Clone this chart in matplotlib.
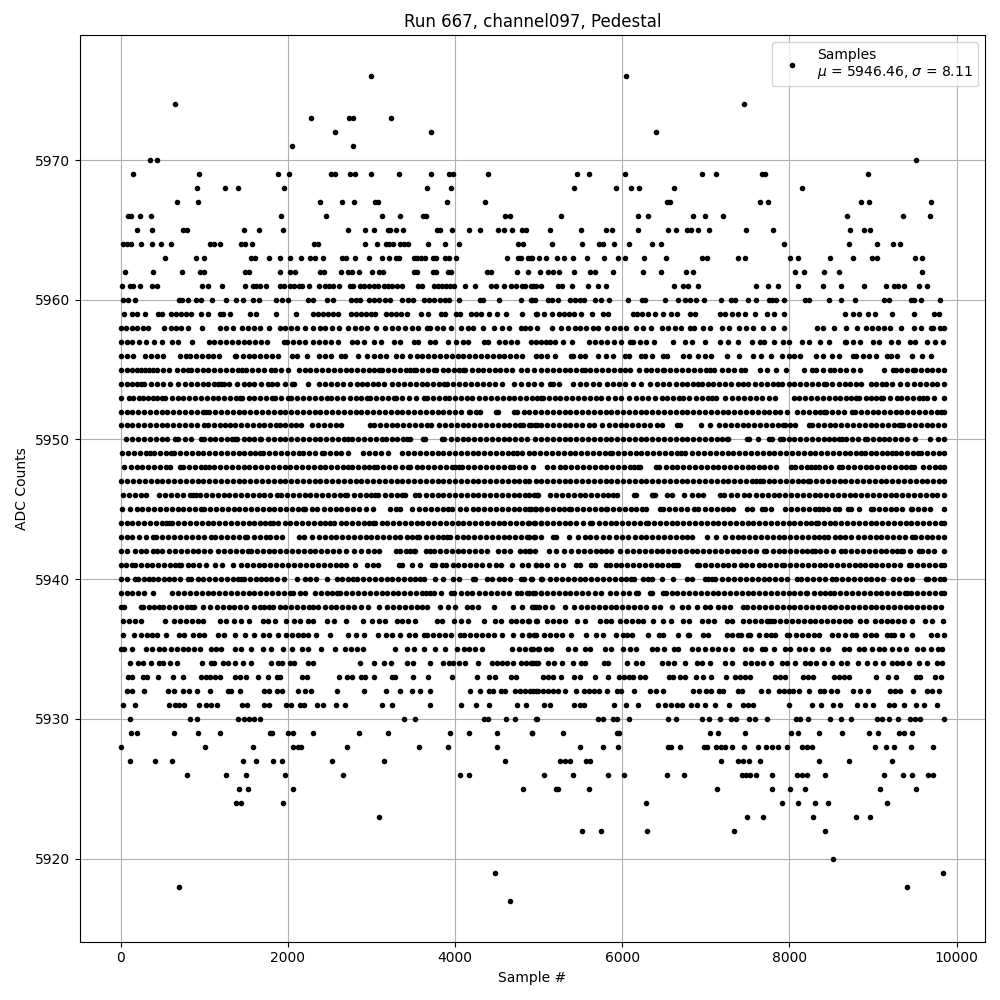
import matplotlib
matplotlib.use('Agg')
import matplotlib.pyplot as plt

# sample numbers for each ADC level
adc5976 = [3000, 6046]
adc5974 = [648, 7462]
adc5973 = [2280, 2736, 2784, 3228]
adc5972 = [2568, 3708, 6406]
adc5971 = [2052, 2784]
adc5970 = [348, 432, 9514]
adc5969 = [144, 936, 1884, 2016, 2520, 2568, 2748, 2804, 3000, 3324, 3708, 3932, 3980, 4392, 5458, 5602, 6034, 6958, 7126, 7666, 7702, 8938]
adc5968 = [912, 1248, 1404, 1956, 3660, 3948, 5422, 5926, 6106, 6202, 6622, 8146]
adc5967 = [672, 924, 2388, 2652, 2796, 3044, 3076, 3900, 4356, 6538, 6574, 7642, 7738, 8854, 8950, 9694]
adc5966 = [84, 120, 228, 360, 1920, 2460, 3120, 3336, 3612, 3656, 4596, 4656, 5266, 6190, 6310, 6850, 6994, 7210, 8686, 9358, 9682]
adc5965 = [192, 372, 744, 792, 1476, 1656, 1944, 2716, 2924, 3036, 3192, 3224, 3288, 3372, 3784, 3816, 3960, 4164, 4296, 4512, 4584, 4680, 4796, 4844, 5134, 5506, 5806, 5878, 6190, 6550, 6646, 6778, 6826, 6910, 7042, 7486, 7798, 8722, 8890, 8962]
adc5964 = [32, 80, 124, 240, 372, 480, 600, 1068, 1120, 1188, 1440, 1488, 1572, 2316, 2364, 2928, 3072, 3176, 3212, 3260, 3344, 3392, 3436, 3672, 3876, 4044, 4752, 4816, 5158, 5518, 5722, 5770, 5902, 6082, 6358, 6466, 7930, 8710, 9046, 9238, 9322]
adc5963 = [528, 900, 996, 1556, 1604, 1776, 1908, 2028, 2160, 2268, 2320, 2424, 2652, 2696, 2808, 2976, 3120, 3204, 3288, 3328, 3504, 3548, 3592, 3636, 3732, 3768, 3884, 3924, 4008, 4624, 4752, 4792, 4876, 4920, 4906, 5002, 5086, 5218, 5302, 5410, 5578, 5782, 5950, 6034, 6262, 6526, 6958, 7018, 7390, 7474, 8002, 8098, 8482, 8758, 8986, 9046, 9502, 9586]
adc5962 = [52, 384, 732, 948, 996, 1488, 1536, 1908, 2028, 2088, 2388, 2436, 2636, 2724, 2772, 2856, 3012, 3088, 3136, 3504, 3548, 3732, 3768, 3912, 3948, 4380, 4432, 4740, 4872, 5014, 5110, 5170, 5242, 5422, 5614, 5674, 5890, 6250, 6466, 6766, 6850, 8062, 8170, 8410, 8590, 9586]
adc5961 = [12, 108, 144, 228, 372, 432, 972, 1044, 1212, 1488, 1580, 1616, 1668, 1740, 1908, 1956, 2028, 2076, 2136, 2172, 2256, 2376, 2448, 2496, 2544, 2616, 2748, 2784, 2868, 2916, 2976, 3036, 3084, 3144, 3192, 3248, 3300, 3360, 3552, 3600, 3744, 3792, 3840, 3888, 3936, 3984, 4116, 4236, 4432, 4492, 4584, 4668, 4728, 4800, 4836, 4908, 4968, 4930, 5026, 5230, 5278, 5398, 5590, 5710, 5806, 6622, 6730, 6790, 6910, 7594, 7738, 7858, 8098, 8398, 8614, 8890, 9154, 9250, 9298, 9370, 9550, 9646]
adc5960 = [24, 84, 168, 696, 732, 804, 900, 960, 1092, 1260, 1384, 1464, 1584, 1656, 1860, 1932, 2004, 2244, 2304, 2472, 2544, 2760, 2820, 2868, 2976, 3036, 3096, 3156, 3216, 3360, 3432, 3492, 3624, 3684, 3744, 3816, 3876, 3932, 4044, 4296, 4332, 4524, 4788, 4908, 4956, 4918, 5110, 5158, 5230, 5374, 5434, 5494, 5542, 5674, 5746, 5842, 6070, 6238, 6274, 6514, 6670, 6754, 6814, 6878, 6982, 7186, 7306, 7354, 7510, 7594, 7750, 7786, 7834, 7930, 8182, 8230, 8470, 8614, 8782, 9130, 9190, 9454, 9490, 9574, 9802]
adc5959 = [36, 132, 192, 288, 444, 492, 600, 660, 720, 780, 840, 960, 1044, 1188, 1224, 1308, 1548, 1620, 1860, 2100, 2304, 2364, 2424, 2484, 2544, 2604, 2760, 2820, 2880, 2940, 3000, 3048, 3168, 3228, 3288, 3348, 3420, 3588, 3672, 3828, 3876, 4008, 4056, 4188, 4248, 4308, 4404, 4500, 4608, 4800, 4980, 4966, 5062, 5158, 5242, 5302, 5362, 5422, 5506, 5638, 5770, 5830, 6130, 6178, 6238, 6310, 6394, 6490, 6586, 6658, 6814, 6874, 7174, 7234, 7318, 7390, 7474, 7582, 7726, 7810, 7930, 8662, 8758, 8830, 8938, 9022, 9226, 9490, 9730, 9790]
adc5958 = [0, 60, 130, 200, 270, 324, 524, 600, 660, 724, 804, 972, 1184, 1264, 1344, 1456, 1524, 1600, 1664, 1776, 1904, 1964, 2040, 2110, 2204, 2304, 2380, 2450, 2530, 2616, 2724, 2800, 2870, 2950, 3056, 3164, 3244, 3320, 3400, 3480, 3560, 3664, 3704, 3780, 3860, 3952, 4072, 4150, 4220, 4336, 4464, 4564, 4640, 4784, 4832, 4900, 4984, 5162, 5270, 5350, 5430, 5500, 5570, 5650, 5710, 5818, 5900, 5978, 6050, 6166, 6250, 6338, 6478, 6550, 6630, 6700, 6810, 6862, 6970, 7050, 7190, 7274, 7402, 7480, 7560, 7682, 7802, 7930, 8330, 8400, 8538, 8682, 8810, 8918, 8990, 9060, 9130, 9202, 9334, 9490, 9570, 9690, 9718, 9800, 9847]
adc5957 = [0, 70, 140, 220, 300, 400, 496, 608, 680, 848, 1056, 1112, 1190, 1260, 1330, 1400, 1470, 1540, 1610, 1680, 1752, 1952, 1992, 2060, 2130, 2210, 2304, 2376, 2450, 2520, 2600, 2764, 2824, 2916, 3032, 3110, 3272, 3344, 3512, 3552, 3704, 3764, 3912, 4016, 4090, 4160, 4344, 4392, 4524, 4600, 4670, 4740, 4912, 4964, 5024, 5090, 5130, 5200, 5290, 5402, 5602, 5670, 5750, 5820, 5900, 5990, 6090, 6130, 6210, 6290, 6378, 6610, 6750, 6830, 6990, 7170, 7260, 7390, 7550, 7642, 7690, 7818, 7918, 8000, 8150, 8230, 8370, 8478, 8670, 8682, 8760, 8840, 9002, 9070, 9210, 9298, 9438, 9498, 9650, 9738, 9842]
adc5956 = [4, 80, 150, 296, 364, 440, 510, 704, 776, 832, 900, 970, 1040, 1110, 1180, 1364, 1384, 1460, 1530, 1600, 1670, 1740, 1810, 1880, 2044, 2104, 2224, 2376, 2450, 2520, 2632, 2684, 2844, 2944, 3032, 3100, 3170, 3296, 3364, 3464, 3540, 3610, 3680, 3750, 3820, 3890, 3960, 4030, 4100, 4170, 4240, 4310, 4380, 4450, 4520, 4590, 4660, 4730, 4800, 4964, 5030, 5100, 5190, 5390, 5410, 5490, 5560, 5710, 5810, 5890, 6030, 6082, 6230, 6270, 6350, 6482, 6538, 6722, 6802, 6910, 6990, 7060, 7258, 7402, 7562, 7658, 7778, 7910, 7990, 8060, 8130, 8322, 8402, 8510, 8598, 8762, 8802, 8880, 8950, 9030, 9162, 9218, 9290, 9470, 9590, 9690]
adc5955 = [0, 70, 140, 190, 240, 290, 344, 384, 440, 504, 576, 672, 740, 804, 844, 910, 980, 1050, 1120, 1190, 1264, 1330, 1400, 1450, 1504, 1576, 1644, 1720, 1804, 1844, 1920, 2004, 2132, 2200, 2270, 2340, 2410, 2480, 2550, 2620, 2690, 2760, 2830, 2900, 2970, 3030, 3096, 3124, 3200, 3270, 3340, 3410, 3460, 3512, 3536, 3610, 3680, 3744, 3776, 3850, 3920, 3990, 4050, 4096, 4124, 4200, 4270, 4340, 4410, 4480, 4540, 4604, 4684, 4784, 4864, 4940, 5024, 5098, 5170, 5240, 5310, 5380, 5450, 5520, 5550, 5620, 5690, 5760, 5830, 5900, 5970, 6030, 6098, 6202, 6280, 6340, 6410, 6482, 6498, 6570, 6640, 6720, 6790, 6860, 6930, 7000, 7050, 7098, 7198, 7270, 7340, 7418, 7474, 7650, 7730, 7834, 7954, 8178, 8270, 8322, 8400, 8482, 8530, 8600, 8680, 8760, 8847, 9130, 9242, 9270, 9340, 9410, 9478, 9498, 9570, 9640, 9710, 9780, 9847]
adc5954 = [0, 70, 130, 192, 240, 284, 360, 440, 510, 584, 688, 764, 840, 910, 980, 1050, 1120, 1160, 1204, 1232, 1300, 1390, 1472, 1532, 1600, 1680, 1764, 1816, 1872, 1960, 2044, 2076, 2244, 2376, 2444, 2520, 2590, 2664, 2744, 2824, 2892, 2944, 3020, 3080, 3152, 3244, 3320, 3390, 3460, 3530, 3600, 3670, 3740, 3810, 3864, 3904, 3980, 4050, 4120, 4190, 4260, 4330, 4400, 4480, 4564, 4704, 4792, 4870, 4940, 5024, 5130, 5170, 5240, 5410, 5490, 5570, 5650, 5718, 5818, 5890, 5960, 6030, 6130, 6230, 6330, 6418, 6490, 6560, 6640, 6710, 6780, 6850, 6910, 6950, 7020, 7090, 7160, 7230, 7300, 7380, 7450, 7510, 7590, 7660, 7730, 7800, 7860, 7910, 7990, 8060, 8130, 8200, 8270, 8340, 8410, 8442, 8510, 8590, 8660, 8730, 8800, 8858, 8978, 9040, 9110, 9150, 9230, 9322, 9410, 9490, 9560, 9630, 9700, 9770, 9847]
adc5953 = [4, 96, 144, 220, 270, 324, 392, 440, 492, 532, 610, 680, 750, 820, 890, 960, 1030, 1100, 1170, 1240, 1310, 1380, 1432, 1456, 1530, 1600, 1670, 1740, 1816, 1844, 1920, 2004, 2032, 2110, 2180, 2250, 2320, 2400, 2472, 2512, 2590, 2660, 2740, 2810, 2880, 2944, 2984, 3060, 3130, 3200, 3264, 3296, 3370, 3450, 3530, 3624, 3664, 3740, 3810, 3884, 3924, 4000, 4070, 4140, 4204, 4284, 4360, 4430, 4500, 4570, 4640, 4710, 4780, 4850, 4920, 4980, 5024, 5050, 5120, 5190, 5260, 5330, 5400, 5470, 5540, 5610, 5680, 5750, 5830, 5910, 5990, 6082, 6162, 6240, 6310, 6390, 6470, 6540, 6610, 6682, 6730, 6800, 6880, 6950, 7020, 7070, 7118, 7226, 7318, 7390, 7460, 7530, 7600, 7670, 7750, 7830, 8050, 8120, 8190, 8260, 8330, 8400, 8470, 8540, 8610, 8680, 8740, 8802, 8830, 8910, 8980, 9040, 9090, 9122, 9200, 9290, 9338, 9410, 9480, 9550, 9600, 9642, 9730, 9847]
adc5952 = [0, 70, 140, 210, 280, 350, 420, 490, 560, 630, 700, 770, 840, 910, 980, 1024, 1056, 1130, 1200, 1270, 1340, 1410, 1480, 1550, 1620, 1690, 1760, 1830, 1900, 1970, 2040, 2110, 2180, 2250, 2320, 2390, 2460, 2530, 2600, 2670, 2740, 2810, 2880, 2950, 3020, 3090, 3160, 3230, 3300, 3370, 3440, 3510, 3580, 3650, 3720, 3790, 3860, 3930, 4000, 4070, 4164, 4184, 4250, 4300, 4484, 4512, 4704, 4744, 4820, 4890, 4960, 5030, 5100, 5170, 5240, 5310, 5380, 5450, 5520, 5590, 5660, 5730, 5800, 5870, 5940, 6010, 6080, 6150, 6220, 6290, 6360, 6430, 6500, 6570, 6640, 6710, 6780, 6850, 6920, 6990, 7060, 7130, 7200, 7270, 7340, 7410, 7480, 7550, 7620, 7690, 7760, 7830, 7890, 7970, 8090, 8160, 8230, 8300, 8360, 8410, 8438, 8510, 8580, 8650, 8750, 8782, 8860, 8930, 9000, 9060, 9130, 9202, 9270, 9340, 9410, 9480, 9550, 9620, 9690, 9760, 9810, 9847]
adc5951 = [4, 70, 140, 210, 280, 350, 420, 490, 560, 630, 700, 770, 840, 910, 992, 1044, 1120, 1190, 1250, 1312, 1364, 1440, 1510, 1580, 1650, 1720, 1790, 1856, 1904, 1970, 2040, 2100, 2156, 2284, 2360, 2430, 2500, 2570, 2640, 2984, 3032, 3100, 3170, 3240, 3310, 3380, 3450, 3520, 3590, 3660, 3712, 3804, 3880, 3950, 4020, 4090, 4160, 4230, 4300, 4370, 4440, 4510, 4580, 4650, 4720, 4780, 4816, 4904, 4984, 4890, 4960, 5030, 5100, 5170, 5240, 5310, 5380, 5450, 5522, 5600, 5660, 5762, 5840, 5910, 5980, 6050, 6120, 6190, 6260, 6330, 6410, 6478, 6650, 6690, 6938, 7054, 7158, 7230, 7300, 7370, 7440, 7510, 7580, 7650, 7720, 7790, 7860, 7920, 7950, 8002, 8070, 8230, 8270, 8340, 8410, 8480, 8550, 8620, 8690, 8760, 8830, 8900, 8970, 9040, 9110, 9180, 9250, 9310, 9330, 9362, 9430, 9500, 9570, 9640, 9710, 9780, 9847]
adc5950 = [64, 140, 210, 280, 350, 420, 490, 560, 644, 684, 764, 840, 960, 992, 1070, 1130, 1200, 1270, 1330, 1364, 1392, 1470, 1540, 1600, 1664, 1684, 1760, 1830, 1900, 1970, 2040, 2110, 2180, 2250, 2320, 2390, 2460, 2530, 2600, 2670, 2724, 2764, 2840, 2910, 2980, 3050, 3124, 3172, 3240, 3310, 3380, 3424, 3456, 3616, 3644, 3844, 3872, 3950, 4020, 4090, 4160, 4230, 4300, 4370, 4440, 4510, 4580, 4650, 4720, 4790, 4860, 4960, 5030, 5100, 5170, 5240, 5310, 5380, 5450, 5520, 5590, 5660, 5730, 5800, 5870, 5940, 6010, 6080, 6150, 6220, 6290, 6360, 6430, 6500, 6570, 6640, 6710, 6780, 6850, 6920, 6990, 7060, 7130, 7190, 7250, 7270, 7490, 7522, 7618, 7750, 7790, 7890, 7918, 7990, 8060, 8130, 8200, 8270, 8340, 8410, 8470, 8530, 8590, 8630, 8682, 8750, 8820, 8898, 8930, 9000, 9070, 9130, 9190, 9258, 9338, 9410, 9500, 9682, 9778, 9847]
adc5949 = [16, 90, 160, 230, 300, 350, 400, 470, 540, 600, 632, 708, 780, 850, 920, 990, 1060, 1130, 1200, 1270, 1340, 1410, 1480, 1550, 1610, 1664, 1704, 1780, 1850, 1920, 1990, 2060, 2130, 2180, 2250, 2320, 2404, 2432, 2500, 2570, 2640, 2720, 2896, 2970, 3040, 3110, 3192, 3364, 3440, 3510, 3580, 3650, 3720, 3790, 3860, 3930, 4000, 4070, 4140, 4210, 4280, 4350, 4420, 4490, 4560, 4630, 4690, 4744, 4804, 4880, 4950, 5020, 5090, 5160, 5230, 5300, 5370, 5440, 5510, 5580, 5650, 5720, 5790, 5850, 5878, 5950, 6020, 6090, 6160, 6230, 6300, 6370, 6440, 6510, 6580, 6650, 6700, 6750, 6838, 6910, 6980, 7050, 7120, 7190, 7260, 7330, 7400, 7470, 7540, 7610, 7680, 7750, 7820, 7890, 7960, 8030, 8100, 8170, 8240, 8310, 8380, 8450, 8520, 8590, 8660, 8730, 8800, 8858, 8898, 8970, 9040, 9110, 9170, 9230, 9270, 9340, 9410, 9480, 9538, 9578, 9650, 9720, 9790, 9847]
adc5948 = [44, 120, 190, 260, 330, 400, 470, 544, 584, 704, 744, 820, 890, 960, 1010, 1056, 1112, 1190, 1260, 1330, 1400, 1470, 1540, 1610, 1680, 1750, 1820, 1890, 1960, 2030, 2100, 2170, 2240, 2310, 2380, 2450, 2520, 2590, 2660, 2724, 2764, 2840, 2910, 2970, 3032, 3064, 3140, 3210, 3280, 3360, 3432, 3464, 3540, 3610, 3680, 3750, 3820, 3890, 3960, 4000, 4044, 4084, 4160, 4230, 4300, 4370, 4440, 4510, 4580, 4656, 4696, 4770, 4840, 4930, 5098, 5170, 5250, 5320, 5390, 5460, 5530, 5600, 5670, 5740, 5810, 5880, 5950, 6020, 6090, 6140, 6190, 6218, 6400, 6442, 6520, 6590, 6660, 6730, 6800, 6870, 6940, 7010, 7080, 7150, 7220, 7290, 7360, 7430, 7500, 7570, 7640, 7700, 7770, 7834, 8018, 8070, 8140, 8210, 8260, 8310, 8350, 8420, 8500, 8590, 8630, 8700, 8770, 8840, 8910, 8980, 9050, 9120, 9190, 9260, 9330, 9400, 9450, 9490, 9600, 9670, 9740, 9800, 9847]
adc5947 = [4, 80, 150, 220, 290, 360, 430, 500, 570, 640, 710, 780, 850, 920, 990, 1060, 1130, 1200, 1270, 1340, 1410, 1480, 1550, 1620, 1690, 1760, 1830, 1900, 1970, 2040, 2110, 2180, 2250, 2320, 2390, 2460, 2530, 2600, 2670, 2740, 2810, 2880, 2950, 3020, 3090, 3160, 3230, 3300, 3370, 3440, 3510, 3580, 3650, 3720, 3790, 3860, 3930, 4000, 4070, 4140, 4210, 4280, 4350, 4420, 4490, 4560, 4630, 4700, 4770, 4840, 4890, 4970, 5030, 5100, 5170, 5240, 5310, 5380, 5450, 5520, 5590, 5660, 5730, 5800, 5870, 5940, 6010, 6080, 6150, 6220, 6290, 6360, 6430, 6500, 6570, 6640, 6710, 6780, 6850, 6920, 6990, 7060, 7130, 7200, 7270, 7340, 7410, 7480, 7550, 7600, 7650, 7682, 7750, 7820, 7890, 7960, 8030, 8100, 8160, 8218, 8242, 8320, 8390, 8460, 8530, 8600, 8670, 8740, 8810, 8880, 8950, 9020, 9090, 9160, 9230, 9300, 9370, 9440, 9510, 9580, 9650, 9720, 9790, 9847]
adc5946 = [24, 100, 170, 240, 304, 456, 530, 600, 670, 744, 824, 860, 904, 944, 1020, 1090, 1160, 1230, 1300, 1370, 1440, 1510, 1580, 1650, 1720, 1790, 1864, 1912, 1990, 2060, 2130, 2200, 2270, 2340, 2410, 2480, 2550, 2620, 2684, 2712, 2790, 2860, 2930, 3000, 3044, 3084, 3160, 3230, 3300, 3364, 3404, 3524, 3572, 3650, 3720, 3790, 3860, 3930, 4000, 4070, 4140, 4210, 4280, 4350, 4420, 4490, 4560, 4630, 4700, 4770, 4840, 4984, 4890, 4950, 4990, 5130, 5202, 5280, 5350, 5420, 5490, 5560, 5630, 5700, 5770, 5830, 5890, 5938, 6138, 6170, 6350, 6362, 6394, 6530, 6590, 6738, 6838, 6910, 6970, 7170, 7222, 7300, 7370, 7458, 7522, 7600, 7670, 7740, 7810, 7880, 7950, 8020, 8090, 8160, 8230, 8300, 8370, 8440, 8510, 8580, 8650, 8720, 8790, 8860, 8930, 9000, 9070, 9140, 9210, 9280, 9350, 9420, 9490, 9560, 9630, 9700, 9770, 9847]
adc5945 = [16, 112, 190, 260, 330, 400, 470, 540, 610, 680, 750, 820, 890, 964, 992, 1070, 1140, 1210, 1280, 1350, 1420, 1490, 1560, 1630, 1700, 1770, 1840, 1910, 1980, 2050, 2120, 2184, 2204, 2292, 2352, 2430, 2500, 2570, 2640, 2710, 2780, 2850, 2930, 3016, 3216, 3296, 3344, 3484, 3564, 3640, 3710, 3780, 3850, 3920, 3960, 4056, 4132, 4210, 4280, 4350, 4420, 4490, 4560, 4630, 4700, 4770, 4840, 4910, 4970, 5024, 4890, 4960, 5030, 5100, 5170, 5240, 5300, 5362, 5390, 5460, 5530, 5600, 5670, 5740, 5802, 5818, 5890, 5960, 6030, 6100, 6170, 6242, 6282, 6450, 6482, 6560, 6630, 6700, 6780, 6862, 6910, 6990, 7060, 7130, 7200, 7270, 7322, 7490, 7550, 7670, 7710, 7780, 7950, 8018, 8090, 8160, 8230, 8300, 8350, 8402, 8458, 8550, 8590, 8698, 8738, 8830, 8978, 9000, 9070, 9140, 9210, 9280, 9350, 9450, 9470, 9540, 9610, 9680, 9847]
adc5944 = [0, 70, 140, 210, 280, 350, 420, 490, 544, 576, 616, 690, 760, 830, 900, 970, 1040, 1110, 1180, 1250, 1320, 1390, 1460, 1530, 1600, 1670, 1730, 1784, 1824, 1884, 1960, 2030, 2100, 2170, 2240, 2310, 2380, 2440, 2504, 2556, 2630, 2700, 2770, 2840, 2910, 2970, 3024, 3048, 3120, 3190, 3260, 3330, 3400, 3470, 3540, 3610, 3680, 3750, 3820, 3890, 3960, 4030, 4100, 4170, 4240, 4310, 4380, 4450, 4520, 4590, 4660, 4730, 4800, 4870, 4940, 5024, 4890, 4960, 5030, 5100, 5170, 5240, 5310, 5380, 5450, 5530, 5618, 5642, 5720, 5790, 5860, 5930, 6000, 6070, 6140, 6210, 6290, 6310, 6380, 6450, 6520, 6590, 6660, 6730, 6800, 6870, 6940, 7010, 7080, 7150, 7220, 7290, 7360, 7430, 7500, 7570, 7640, 7710, 7780, 7850, 7920, 7990, 8060, 8130, 8200, 8260, 8322, 8338, 8410, 8480, 8550, 8620, 8690, 8760, 8830, 8900, 8970, 9040, 9110, 9180, 9250, 9320, 9390, 9460, 9530, 9600, 9670, 9740, 9810, 9847]
adc5943 = [0, 70, 140, 220, 300, 384, 424, 500, 570, 640, 710, 780, 850, 920, 1000, 1084, 1124, 1200, 1270, 1340, 1410, 1484, 1512, 1590, 1670, 1744, 1784, 1860, 1930, 2132, 2192, 2292, 2370, 2440, 2510, 2580, 2650, 2720, 2790, 2860, 2930, 3000, 3070, 3140, 3210, 3280, 3344, 3420, 3480, 3544, 3572, 3650, 3720, 3800, 3850, 3904, 3944, 4020, 4090, 4160, 4230, 4300, 4370, 4440, 4510, 4580, 4650, 4720, 4790, 4860, 4940, 5024, 4890, 4960, 5170, 5202, 5362, 5470, 5550, 5620, 5690, 5770, 5840, 5920, 5998, 6070, 6150, 6230, 6282, 6360, 6430, 6500, 6570, 6640, 6710, 6770, 6830, 7010, 7122, 7230, 7310, 7380, 7450, 7520, 7590, 7660, 7730, 7800, 7870, 7940, 8010, 8080, 8150, 8220, 8290, 8350, 8410, 8458, 8550, 8610, 8670, 8742, 8820, 8890, 8960, 9030, 9100, 9170, 9240, 9310, 9380, 9470, 9498, 9570, 9640, 9710, 9780, 9847]
adc5942 = [0, 70, 176, 240, 300, 384, 432, 492, 580, 650, 720, 790, 860, 930, 1000, 1064, 1164, 1240, 1310, 1380, 1450, 1524, 1556, 1630, 1700, 1770, 1840, 1910, 1980, 2050, 2120, 2190, 2260, 2330, 2400, 2470, 2540, 2610, 2696, 2792, 2880, 2960, 3030, 3096, 3296, 3336, 3410, 3460, 3504, 3524, 3656, 3700, 3744, 3820, 3890, 3960, 4030, 4100, 4170, 4240, 4310, 4384, 4512, 4590, 4660, 4776, 4832, 4900, 4890, 4960, 5122, 5202, 5302, 5390, 5470, 5540, 5610, 5680, 5750, 5810, 5870, 5970, 6058, 6130, 6200, 6270, 6340, 6410, 6480, 6550, 6620, 6690, 6760, 6830, 6900, 6970, 7040, 7110, 7180, 7250, 7320, 7390, 7460, 7530, 7600, 7690, 7722, 7800, 7870, 7940, 8010, 8080, 8150, 8210, 8270, 8302, 8370, 8440, 8520, 8618, 8670, 8740, 8810, 8880, 8950, 9020, 9090, 9160, 9230, 9290, 9330, 9362, 9440, 9550, 9590, 9660, 9730, 9847]
adc5941 = [0, 64, 140, 176, 240, 310, 380, 450, 520, 590, 650, 696, 724, 800, 870, 940, 1020, 1124, 1212, 1340, 1440, 1510, 1580, 1650, 1720, 1790, 1860, 1930, 2000, 2070, 2144, 2216, 2290, 2360, 2430, 2500, 2570, 2640, 2700, 2804, 2950, 3020, 3084, 3324, 3364, 3484, 3584, 3720, 3764, 3844, 3896, 3972, 4040, 4110, 4180, 4250, 4320, 4400, 4484, 4552, 4684, 4804, 4876, 4964, 5024, 4970, 5098, 5210, 5290, 5450, 5490, 5630, 5670, 5810, 5850, 5920, 5990, 6060, 6130, 6200, 6270, 6340, 6410, 6480, 6550, 6610, 6642, 6670, 6890, 6918, 6990, 7060, 7130, 7200, 7270, 7340, 7420, 7480, 7550, 7630, 7700, 7770, 7840, 7910, 7930, 8010, 8080, 8150, 8220, 8290, 8360, 8430, 8500, 8570, 8640, 8710, 8780, 8840, 8902, 8970, 9040, 9110, 9180, 9250, 9320, 9430, 9450, 9530, 9600, 9670, 9740, 9810, 9847]
adc5940 = [0, 70, 176, 204, 280, 340, 392, 444, 520, 576, 640, 710, 804, 844, 920, 990, 1060, 1130, 1200, 1270, 1340, 1400, 1440, 1472, 1550, 1620, 1680, 1736, 1804, 1872, 1950, 2104, 2204, 2264, 2340, 2464, 2584, 2650, 2720, 2784, 2824, 2900, 2970, 3040, 3110, 3180, 3250, 3320, 3390, 3460, 3520, 3576, 3624, 3764, 3856, 3980, 4050, 4220, 4244, 4384, 4444, 4520, 4590, 4660, 4784, 4824, 4924, 5024, 4910, 5042, 5138, 5210, 5280, 5350, 5420, 5490, 5560, 5630, 5700, 5770, 5840, 5910, 5980, 6050, 6110, 6138, 6250, 6310, 6358, 6480, 6610, 6770, 6830, 6990, 7030, 7070, 7110, 7190, 7270, 7340, 7410, 7480, 7550, 7620, 7690, 7760, 7830, 7900, 7970, 8090, 8138, 8210, 8280, 8350, 8430, 8510, 8562, 8630, 8700, 8770, 8840, 8910, 8980, 9050, 9120, 9238, 9310, 9400, 9470, 9630, 9658, 9730, 9800, 9847]
adc5939 = [0, 70, 140, 210, 280, 384, 616, 690, 760, 830, 900, 970, 1040, 1110, 1180, 1250, 1320, 1390, 1460, 1530, 1600, 1670, 1740, 1810, 1880, 1950, 2024, 2064, 2140, 2210, 2320, 2400, 2470, 2530, 2584, 2624, 2700, 2770, 2840, 2910, 2980, 3050, 3120, 3190, 3260, 3320, 3390, 3460, 3530, 3600, 3650, 3696, 3744, 3832, 3952, 3992, 4070, 4140, 4204, 4284, 4360, 4430, 4500, 4570, 4640, 4744, 4784, 4860, 4930, 5024, 4890, 4960, 5030, 5100, 5170, 5240, 5310, 5380, 5450, 5520, 5590, 5670, 5750, 5850, 5930, 6010, 6080, 6162, 6190, 6330, 6350, 6490, 6518, 6590, 6660, 6730, 6800, 6870, 6940, 7010, 7080, 7150, 7220, 7290, 7360, 7430, 7500, 7570, 7640, 7710, 7780, 7850, 7920, 7990, 8060, 8130, 8200, 8210, 8290, 8360, 8420, 8490, 8538, 8610, 8680, 8750, 8820, 8890, 8960, 9030, 9100, 9170, 9240, 9310, 9380, 9450, 9410, 9530, 9600, 9670, 9740, 9810, 9847]
adc5938 = [0, 44, 240, 272, 344, 400, 456, 504, 576, 650, 720, 790, 840, 872, 984, 1072, 1150, 1220, 1290, 1360, 1430, 1500, 1600, 1670, 1720, 1776, 1824, 1900, 1970, 2040, 2110, 2180, 2250, 2304, 2364, 2440, 2510, 2580, 2650, 2720, 2790, 2870, 2956, 3092, 3184, 3260, 3330, 3400, 3470, 3540, 3600, 3664, 3824, 3920, 4000, 4144, 4204, 4280, 4464, 4692, 4800, 4924, 4964, 4950, 5010, 5080, 5160, 5310, 5422, 5510, 5580, 5650, 5720, 5790, 5860, 5930, 6000, 6070, 6140, 6210, 6280, 6378, 6450, 6600, 6710, 6790, 6890, 6990, 7050, 7150, 7220, 7290, 7442, 7498, 7570, 7640, 7710, 7780, 7850, 7920, 7990, 8060, 8130, 8200, 8270, 8340, 8410, 8480, 8550, 8620, 8690, 8760, 8830, 8900, 8970, 9040, 9110, 9180, 9250, 9320, 9390, 9460, 9530, 9600, 9670, 9740, 9818]
adc5937 = [24, 100, 170, 240, 528, 632, 710, 780, 850, 920, 990, 1184, 1264, 1356, 1440, 1530, 1704, 1764, 1844, 1976, 2072, 2150, 2240, 2304, 2472, 2550, 2696, 2904, 3004, 3090, 3160, 3304, 3364, 3440, 3524, 3784, 3844, 3984, 4072, 4160, 4344, 4476, 4550, 4664, 4724, 4800, 4870, 4984, 4890, 4970, 5098, 5170, 5240, 5310, 5458, 5550, 5730, 5800, 5870, 5970, 6050, 6120, 6190, 6250, 6370, 6490, 6578, 6730, 6802, 6950, 7030, 7100, 7250, 7318, 7450, 7520, 7590, 7660, 7730, 7782, 7738, 7820, 7890, 7960, 8030, 8100, 8170, 8240, 8310, 8380, 8450, 8520, 8590, 8660, 8730, 8842, 8910, 9020, 9090, 9162, 9230, 9300, 9370, 9470, 9622, 9710, 9840]
adc5936 = [32, 164, 240, 310, 380, 440, 544, 696, 760, 870, 932, 1000, 1164, 1236, 1364, 1484, 1592, 1700, 1776, 1884, 1976, 2050, 2124, 2184, 2244, 2336, 2504, 2724, 2810, 2912, 3084, 3176, 3240, 3344, 3444, 3520, 3624, 3664, 3740, 3810, 3880, 3950, 4064, 4104, 4180, 4250, 4320, 4390, 4460, 4564, 4696, 4804, 4884, 4964, 4890, 4950, 5058, 5130, 5210, 5282, 5390, 5570, 5690, 5770, 5930, 6010, 6058, 6118, 6310, 6442, 6490, 6670, 6790, 6802, 6970, 7030, 7250, 7310, 7390, 7420, 7530, 7500, 7630, 7720, 7778, 7830, 7970, 8000, 8080, 8150, 8220, 8290, 8350, 8510, 8578, 8660, 8750, 8802, 8902, 8970, 9040, 9162, 9220, 9250, 9350, 9470, 9690, 9770, 9847]
adc5935 = [0, 44, 130, 304, 380, 464, 524, 600, 670, 740, 810, 880, 950, 1080, 1140, 1200, 1368, 1440, 1564, 1704, 1804, 1944, 2044, 2164, 2244, 2400, 2564, 2684, 2760, 2830, 2904, 3284, 3424, 3510, 3624, 3764, 3880, 4024, 4104, 4164, 4244, 4320, 4684, 4770, 4840, 4910, 4990, 4930, 5010, 5090, 5150, 5350, 5430, 5550, 5610, 5790, 5870, 6010, 6090, 6170, 6350, 6420, 6500, 6620, 6670, 6830, 6910, 6990, 7070, 7150, 7230, 7310, 7470, 7540, 7670, 7710, 7820, 7950, 8010, 8110, 8190, 8270, 8390, 8460, 8650, 8710, 8830, 8890, 8990, 9070, 9130, 9230, 9310, 9400, 9530, 9600, 9690, 9780, 9830]
adc5934 = [108, 204, 264, 360, 456, 504, 588, 672, 972, 1080, 1116, 1224, 1284, 1368, 1464, 1560, 1800, 1884, 1932, 2028, 2076, 2244, 2304, 2868, 3036, 3144, 3228, 3420, 3492, 3696, 3852, 3924, 3972, 4044, 4116, 4272, 4440, 4500, 4560, 4620, 4692, 4788, 4848, 4908, 4968, 4930, 4990, 5110, 5182, 5278, 5410, 5506, 5554, 5782, 5830, 6054, 6166, 6238, 6478, 6550, 6622, 6754, 6898, 6958, 7054, 7234, 7318, 7474, 7546, 7606, 7678, 7774, 7906, 7966, 8062, 8182, 8242, 8314, 8410, 8506, 8614, 8686, 8818, 8926, 9022, 9118, 9226, 9286, 9346, 9430, 9550, 9646, 9766, 9826]
adc5933 = [84, 132, 264, 312, 444, 624, 744, 960, 1020, 1068, 1128, 1188, 1368, 1428, 1500, 1644, 1764, 1872, 1908, 2172, 2232, 2616, 2712, 2772, 2880, 2928, 3036, 3240, 3276, 3492, 3672, 3960, 4260, 4404, 4476, 4668, 4728, 5050, 5110, 5170, 5266, 5422, 5494, 5670, 5830, 5962, 6022, 6082, 6130, 6214, 6274, 6562, 6610, 6694, 6754, 6886, 6970, 7066, 7246, 7354, 7414, 7474, 7534, 7822, 7882, 7942, 8158, 8218, 8278, 8530, 8590, 8650, 8710, 9034, 9178, 9274, 9514, 9562, 9742, 9814]
adc5932 = [72, 132, 276, 564, 636, 744, 816, 912, 1068, 1284, 1320, 1428, 1716, 1776, 1872, 1932, 2124, 2208, 2280, 2592, 2916, 3168, 3336, 3480, 3576, 3696, 4176, 4296, 4404, 4452, 4548, 4596, 4716, 4776, 4836, 4896, 4968, 4930, 4990, 5050, 5110, 5170, 5230, 5314, 5446, 5542, 5602, 5662, 5722, 5818, 5938, 5986, 6138, 6334, 6406, 6490, 6850, 6922, 7006, 7066, 7162, 7210, 7390, 7438, 7654, 7738, 7870, 7930, 7990, 8038, 8110, 8230, 8362, 8410, 8494, 8566, 8758, 8842, 8938, 9202, 9262, 9322, 9478, 9646, 9706, 9790]
adc5931 = [24, 168, 576, 648, 696, 756, 936, 1020, 1080, 1152, 1452, 1512, 1716, 1776, 1980, 2040, 2148, 2196, 2352, 2424, 2580, 2688, 3120, 3240, 3696, 4068, 4248, 4404, 4740, 4848, 5062, 5134, 5422, 5494, 5542, 5902, 6046, 6190, 6430, 6514, 6586, 6658, 6718, 6826, 6898, 6994, 7114, 7282, 7450, 7510, 7570, 7990, 8266, 8374, 8518, 8602, 8806, 8902, 8998, 9190, 9250, 9370, 9514, 9610, 9766]
adc5930 = [108, 828, 912, 1404, 1476, 1536, 1596, 1668, 3384, 3516, 4344, 4392, 4608, 4716, 4984, 4966, 5710, 5770, 5890, 5938, 6082, 6550, 6646, 6958, 7042, 7174, 7306, 7366, 7522, 7582, 7726, 8074, 8122, 8218, 8482, 8614, 8734, 9046, 9106, 9190, 9298, 9442, 9502, 9562, 9847]
adc5929 = [120, 192, 636, 924, 1188, 1788, 1812, 2004, 2064, 2304, 2856, 3192, 3936, 4164, 4500, 4920, 4918, 5290, 5938, 5962, 7054, 7150, 7474, 8014, 8098, 8350, 8626, 8950, 9058, 9310, 9370, 9466]
adc5928 = [0, 1008, 1584, 2064, 2124, 2160, 2712, 3564, 3912, 4500, 5494, 5770, 5950, 6550, 6586, 6694, 6982, 7018, 7126, 7186, 7234, 7318, 7462, 7618, 7714, 7786, 7858, 7966, 8146, 8206, 8266, 9022, 9154, 9250, 9454, 9718]
adc5927 = [108, 408, 612, 1464, 1620, 1824, 1932, 2532, 3144, 4596, 5254, 5314, 5374, 5566, 5614, 7186, 7390, 7450, 7522, 7642, 8350, 8710, 9226]
adc5926 = [792, 1260, 1500, 1968, 2664, 4056, 4164, 5062, 5410, 5830, 6022, 6538, 6742, 7438, 7486, 7534, 7594, 7786, 8086, 8146, 8206, 8422, 9130, 9358, 9466, 9658, 9718]
adc5925 = [1416, 1524, 2064, 4812, 5206, 5230, 5602, 7138, 7786, 8002, 8182, 9082, 9514]
adc5924 = [1380, 1440, 1944, 6286, 7906, 8098, 8302, 8458, 9166]
adc5923 = [3096, 7498, 7678, 8278, 8794, 8962]
adc5922 = [5518, 5746, 6298, 7342, 8422]
adc5920 = [8518]
adc5919 = [4476, 9838]
adc5918 = [696, 9406]
adc5917 = [4656]

levels = {
    5976: adc5976, 5974: adc5974, 5973: adc5973, 5972: adc5972, 5971: adc5971,
    5970: adc5970, 5969: adc5969, 5968: adc5968, 5967: adc5967, 5966: adc5966,
    5965: adc5965, 5964: adc5964, 5963: adc5963, 5962: adc5962, 5961: adc5961,
    5960: adc5960, 5959: adc5959, 5958: adc5958, 5957: adc5957, 5956: adc5956,
    5955: adc5955, 5954: adc5954, 5953: adc5953, 5952: adc5952, 5951: adc5951,
    5950: adc5950, 5949: adc5949, 5948: adc5948, 5947: adc5947, 5946: adc5946,
    5945: adc5945, 5944: adc5944, 5943: adc5943, 5942: adc5942, 5941: adc5941,
    5940: adc5940, 5939: adc5939, 5938: adc5938, 5937: adc5937, 5936: adc5936,
    5935: adc5935, 5934: adc5934, 5933: adc5933, 5932: adc5932, 5931: adc5931,
    5930: adc5930, 5929: adc5929, 5928: adc5928, 5927: adc5927, 5926: adc5926,
    5925: adc5925, 5924: adc5924, 5923: adc5923, 5922: adc5922, 5920: adc5920,
    5919: adc5919, 5918: adc5918, 5917: adc5917,
}

x = []
y = []
for level, samples in levels.items():
    x.extend(samples)
    y.extend([level] * len(samples))

plt.figure(figsize=(10, 10))
plt.plot(x, y, 'k.', label='Samples\n$\\mu$ = 5946.46, $\\sigma$ = 8.11')
plt.title('Run 667, channel097, Pedestal')
plt.xlabel('Sample #')
plt.ylabel('ADC Counts')
plt.grid(True)
plt.legend(loc='upper right')
plt.tight_layout()
plt.subplots_adjust(top=0.965)
plt.savefig('out.png', dpi=100)
